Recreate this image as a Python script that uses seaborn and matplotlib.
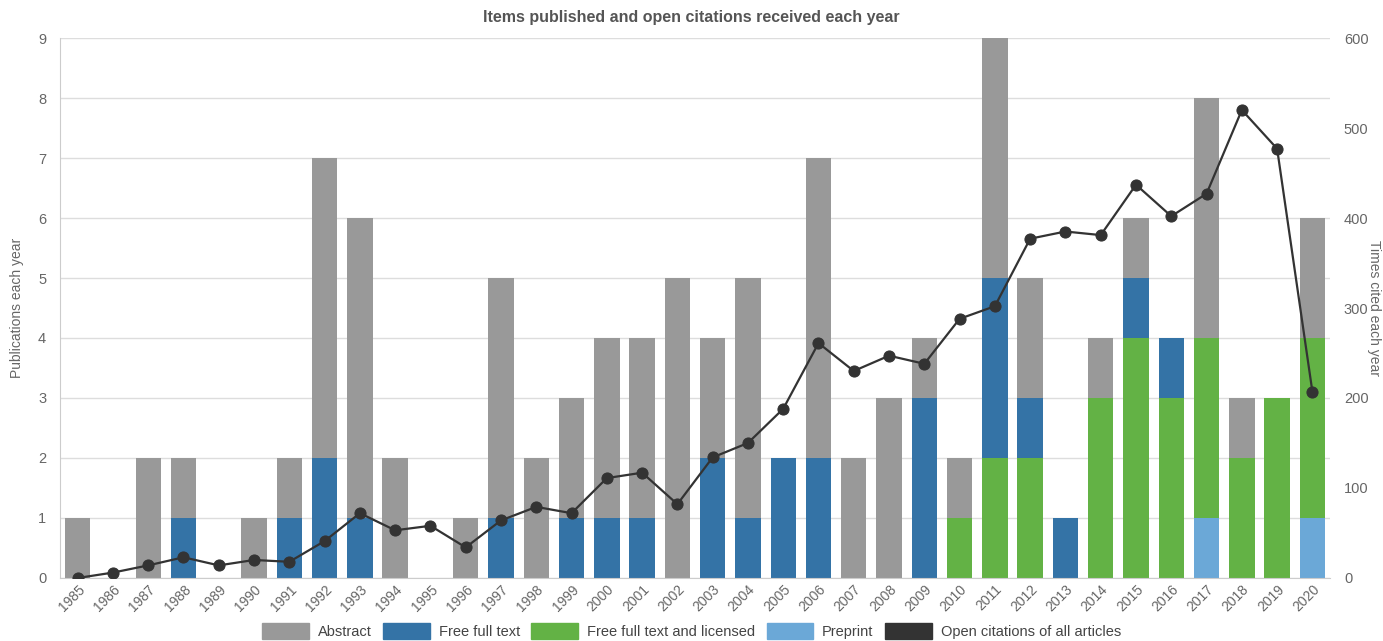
import numpy as np
import pandas as pd
import seaborn as sns
import matplotlib.pyplot as plt
from matplotlib.patches import Patch

# values
years = [str(y) for y in range(1985, 2021)]
abstract = [1, 0, 2, 1, 0, 1, 1, 5, 5, 2, 0, 1, 4, 2, 2, 3, 3, 5, 2, 4,
            0, 5, 2, 3, 1, 1, 4, 2, 0, 1, 1, 0, 4, 1, 0, 2]
free_full = [0, 0, 0, 1, 0, 0, 1, 2, 1, 0, 0, 0, 1, 0, 1, 1, 1, 0, 2, 1,
             2, 2, 0, 0, 3, 0, 3, 1, 1, 0, 1, 1, 0, 0, 0, 0]
licensed = [0, 0, 0, 0, 0, 0, 0, 0, 0, 0, 0, 0, 0, 0, 0, 0, 0, 0, 0, 0,
            0, 0, 0, 0, 0, 1, 2, 2, 0, 3, 4, 3, 3, 2, 3, 3]
preprint = [0, 0, 0, 0, 0, 0, 0, 0, 0, 0, 0, 0, 0, 0, 0, 0, 0, 0, 0, 0,
            0, 0, 0, 0, 0, 0, 0, 0, 0, 0, 0, 0, 1, 0, 0, 1]
citations = [0, 6, 14, 23, 14, 20, 18, 41, 72, 53, 58, 34, 64, 79, 72, 111,
             117, 82, 134, 150, 188, 261, 230, 247, 238, 288, 302, 377, 385,
             381, 437, 402, 427, 520, 477, 207]

df = pd.DataFrame({"year": years, "abstract": abstract, "free": free_full,
                   "lic": licensed, "pre": preprint, "cites": citations})
# stack order from bottom: preprint, licensed, free full text, abstract
df["s_pre"] = df["pre"]
df["s_lic"] = df["s_pre"] + df["lic"]
df["s_free"] = df["s_lic"] + df["free"]
df["s_abs"] = df["s_free"] + df["abstract"]

c_abs = "#999999"
c_free = "#3473a6"
c_lic = "#63b245"
c_pre = "#6ba8d7"
c_line = "#333333"
txt = "#666666"

plt.rcParams["font.family"] = ["Liberation Sans", "DejaVu Sans"]

fig = plt.figure(figsize=(13.83, 6.41), dpi=100)
ax = fig.add_axes([0.0434, 0.0983, 0.9183, 0.8424])

for col, color in [("s_abs", c_abs), ("s_free", c_free), ("s_lic", c_lic), ("s_pre", c_pre)]:
    sns.barplot(data=df, x="year", y=col, color=color, width=0.72,
                saturation=1, ax=ax, zorder=2)

ax.set_ylim(0, 9)
ax.set_xlim(-0.5, len(years) - 0.5)
ax.set_yticks(range(0, 10))
ax.grid(axis="y", color="#dddddd", linewidth=1, zorder=0)
ax.set_axisbelow(True)
ax.set_xlabel("")
ax.set_ylabel("Publications each year", color=txt, fontsize=10, labelpad=10)
ax.tick_params(axis="x", rotation=45, labelsize=10, colors=txt, length=0, pad=3)
ax.tick_params(axis="y", labelsize=10.5, colors=txt, length=0, pad=10)
for lab in ax.get_xticklabels():
    lab.set_ha("right")
    lab.set_rotation_mode("anchor")
for s in ["top", "right"]:
    ax.spines[s].set_visible(False)
ax.spines["left"].set_color("#cccccc")
ax.spines["bottom"].set_color("#cccccc")

ax2 = ax.twinx()
sns.lineplot(x=np.arange(len(years)), y=df["cites"], color=c_line, marker="o",
             markersize=8, markeredgecolor=c_line, linewidth=1.6, ax=ax2, zorder=5)
ax2.set_ylim(0, 600)
ax2.set_yticks(range(0, 601, 100))
ax2.tick_params(axis="y", labelsize=10.5, colors=txt, length=0, pad=10)
ax2.set_ylabel("")
for s in ax2.spines.values():
    s.set_visible(False)

fig.text(0.5, 0.972, "Items published and open citations received each year",
         ha="center", va="center", fontsize=11.5, fontweight="bold", color="#555555")
fig.text(0.9935, 0.52, "Times cited each year", rotation=270, ha="center",
         va="center", fontsize=10, color=txt)

handles = [Patch(color=c_abs, label="Abstract"),
           Patch(color=c_free, label="Free full text"),
           Patch(color=c_lic, label="Free full text and licensed"),
           Patch(color=c_pre, label="Preprint"),
           Patch(color=c_line, label="Open citations of all articles")]
leg = fig.legend(handles=handles, loc="center", bbox_to_anchor=(0.5, 0.016),
                 ncol=5, frameon=False, fontsize=10.5, handlelength=3.2,
                 handleheight=1.3, columnspacing=0.8, handletextpad=0.6)
for t in leg.get_texts():
    t.set_color("#444444")

fig.savefig("out.png", dpi=100)
